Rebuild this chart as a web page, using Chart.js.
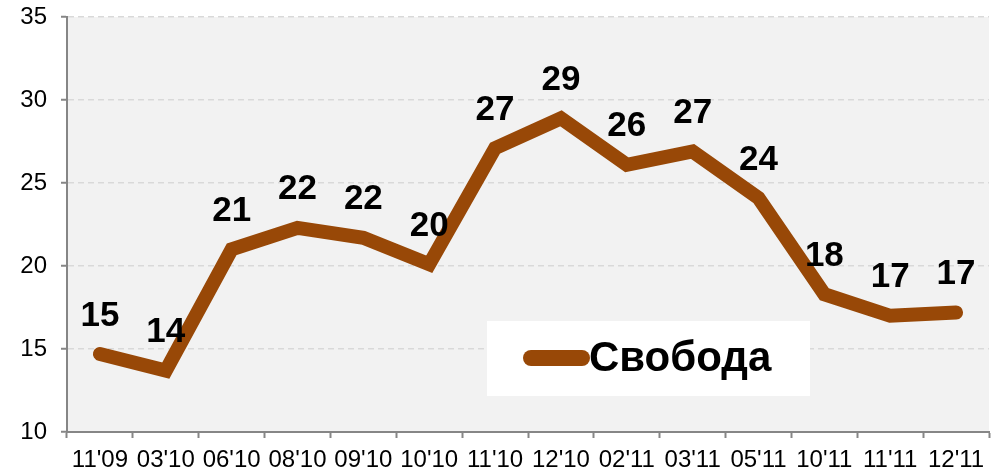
<!DOCTYPE html>
<html>
<head>
<meta charset="utf-8">
<script src="https://cdn.jsdelivr.net/npm/chart.js@4.4.0/dist/chart.umd.min.js"></script>
<style>
  html, body { margin: 0; padding: 0; background: #ffffff; }
  #wrap { width: 1002px; height: 476px; }
</style>
</head>
<body>
<div id="wrap"><canvas id="chart" width="1002" height="476"></canvas></div>
<script>
// chart data
const categories = ["11'09", "03'10", "06'10", "08'10", "09'10", "10'10", "11'10", "12'10", "02'11", "03'11", "05'11", "10'11", "11'11", "12'11"];
const svobodaValues = [14.7, 13.7, 21.0, 22.3, 21.7, 20.1, 27.1, 28.9, 26.1, 26.9, 24.1, 18.3, 17.0, 17.2];
const pointLabels = ["15", "14", "21", "22", "22", "20", "27", "29", "26", "27", "24", "18", "17", "17"];
const seriesName = "Свобода";

const lineColor = '#984807';
const fontFamily = '"Liberation Sans", Arial, sans-serif';

// ============= PLOT BACKGROUND =============
const plotBackground = {
    id: 'plotBackground',
    beforeDraw(chart) {
        const { ctx, chartArea: a } = chart;
        ctx.save();
        ctx.fillStyle = '#f2f2f2';
        ctx.fillRect(a.left, a.top, a.right - a.left, a.bottom - a.top);
        ctx.restore();
    }
};

// ============= VALUE LABELS =============
const valueLabels = {
    id: 'valueLabels',
    afterDatasetsDraw(chart) {
        const { ctx } = chart;
        const meta = chart.getDatasetMeta(0);
        ctx.save();
        ctx.font = 'bold 35px ' + fontFamily;
        ctx.fillStyle = '#000000';
        ctx.textAlign = 'center';
        ctx.textBaseline = 'middle';
        meta.data.forEach((pt, i) => {
            ctx.fillText(pointLabels[i], pt.x, pt.y - 38);
        });
        ctx.restore();
    }
};

// ============= LEGEND BOX =============
const legendBox = {
    id: 'legendBox',
    afterDraw(chart) {
        const { ctx } = chart;
        const x = 487, y = 321, w = 323, h = 75;
        ctx.save();
        ctx.fillStyle = '#ffffff';
        ctx.fillRect(x, y, w, h);
        ctx.strokeStyle = lineColor;
        ctx.lineWidth = 16;
        ctx.lineCap = 'round';
        ctx.beginPath();
        ctx.moveTo(531, 358);
        ctx.lineTo(582, 358);
        ctx.stroke();
        ctx.font = 'bold 42px ' + fontFamily;
        ctx.fillStyle = '#000000';
        ctx.textAlign = 'left';
        ctx.textBaseline = 'middle';
        ctx.fillText(seriesName, 589, 359);
        ctx.restore();
    }
};

new Chart(document.getElementById('chart'), {
    type: 'line',
    data: {
        labels: categories,
        datasets: [{
            label: seriesName,
            data: svobodaValues,
            borderColor: lineColor,
            borderWidth: 14,
            borderCapStyle: 'round',
            borderJoinStyle: 'miter',
            pointRadius: 0,
            tension: 0,
            fill: false
        }]
    },
    options: {
        responsive: false,
        animation: false,
        layout: { padding: { left: 0, right: 13, top: 17, bottom: 0 } },
        plugins: {
            legend: { display: false },
            tooltip: { enabled: false }
        },
        scales: {
            x: {
                offset: true,
                grid: {
                    offset: true,
                    drawOnChartArea: false,
                    drawTicks: true,
                    tickLength: 6,
                    tickColor: '#868686',
                    tickWidth: 2
                },
                border: { color: '#868686', width: 2 },
                ticks: {
                    color: '#000000',
                    font: { family: fontFamily, size: 24 },
                    maxRotation: 0,
                    autoSkip: false,
                    padding: 8
                },
                afterFit(scale) {
                    scale.height = 44;
                    scale.paddingLeft = 0;
                    scale.paddingRight = 0;
                }
            },
            y: {
                min: 10,
                max: 35,
                ticks: {
                    stepSize: 5,
                    color: '#000000',
                    font: { family: fontFamily, size: 24 },
                    padding: 14
                },
                afterFit(scale) {
                    scale.width = 67;
                    scale.paddingTop = 0;
                    scale.paddingBottom = 0;
                },
                grid: {
                    color: '#d9d9d9',
                    lineWidth: 1.5,
                    tickLength: 6,
                    tickColor: '#868686',
                    tickWidth: 2,
                    tickBorderDash: []
                },
                border: { color: '#868686', width: 2, dash: [6, 4] }
            }
        }
    },
    plugins: [plotBackground, valueLabels, legendBox]
});
</script>
</body>
</html>
